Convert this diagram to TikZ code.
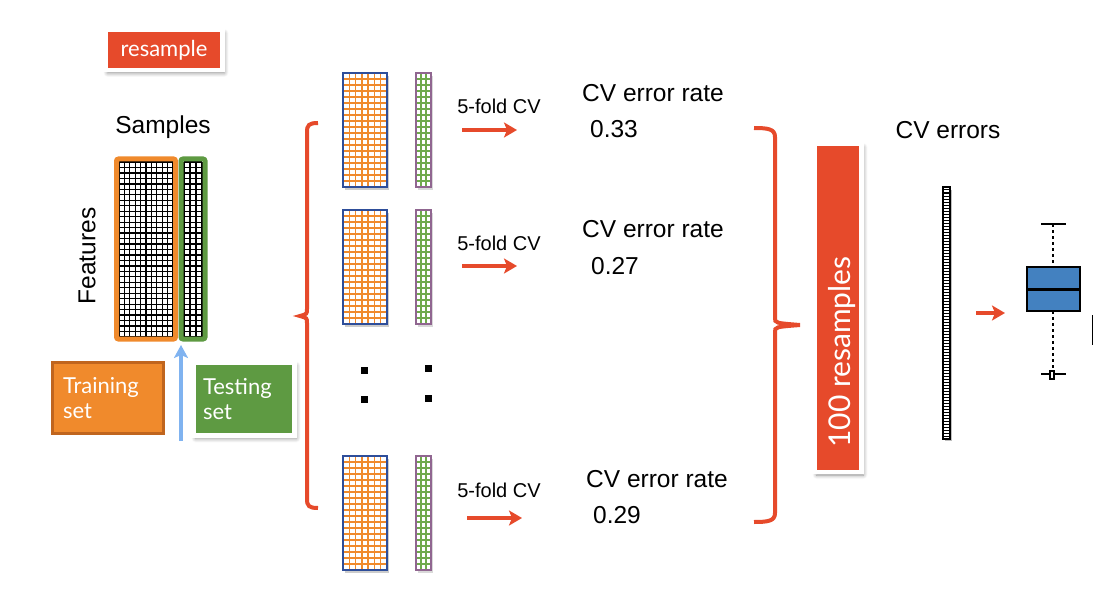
\documentclass[tikz,border=0pt]{standalone}
\usepackage{fontspec}
\setmainfont{Liberation Sans}
\newfontfamily\gill{Lato}
\usetikzlibrary{shadows,shadows.blur,arrows.meta}
\definecolor{cvred}{HTML}{E64A2B}
\definecolor{cvorange}{HTML}{F08A2C}
\definecolor{cvorangedark}{HTML}{C0651E}
\definecolor{cvgreen}{HTML}{5E9A42}
\definecolor{cvgreenl}{HTML}{6FAA4C}
\definecolor{cvblue}{HTML}{2E4E9A}
\definecolor{cvarrow}{HTML}{80B3F0}
\definecolor{cvbox}{HTML}{4381C0}
\newcommand\mygrid[7]{%
 \foreach \i in {0,...,#5}{\draw[#7] ({#1+(#3-#1)*\i/#5},#2) -- ({#1+(#3-#1)*\i/#5},#4);}
 \foreach \j in {0,...,#6}{\draw[#7] (#1,{#2+(#4-#2)*\j/#6}) -- (#3,{#2+(#4-#2)*\j/#6});}
}
\tikzset{
  lbl/.style={font=\fontsize{24.5}{28}\selectfont, inner sep=0pt},
  small/.style={font=\fontsize{20}{24}\selectfont, inner sep=0pt},
  softshadow/.style={blur shadow={shadow blur steps=6, shadow xshift=2pt, shadow yshift=-3pt, shadow blur radius=4pt, shadow opacity=45}},
  redbox/.style={fill=cvred, draw=white, line width=4.5pt, text=white, softshadow},
  redarrow/.style={draw=cvred, line width=3.8pt, -{Stealth[length=13pt,width=15pt,inset=3pt]}},
  brace/.style={draw=cvred, line width=4pt},
  orgrid/.style={draw=cvorange, line width=1.5pt},
  grgrid/.style={draw=cvgreenl, line width=1.3pt},
  blgrid/.style={draw=black, line width=1.3pt},
}
\begin{document}
\begin{tikzpicture}[x=1pt,y=-1pt]
\useasboundingbox (0,0) rectangle (1102,596);
% resample
\node[redbox, minimum width=117pt, minimum height=40pt, font=\gill\fontsize{22}{24}\selectfont] (res) at (164,50) {resample};
% samples matrix
\node[lbl] (samples) at (163,127) {Samples};
\node[lbl, rotate=90] (features) at (87,256) {Features};
\mygrid{119}{162}{173}{337}{10}{32}{blgrid}
\mygrid{184}{162}{202}{337}{3}{32}{blgrid}
\node[draw=cvorange, line width=5pt, rounded corners=2pt, minimum width=59pt, minimum height=180pt, inner sep=0pt] (mtrain) at (146,249) {};
\node[draw=cvgreen, line width=5pt, rounded corners=2pt, minimum width=24pt, minimum height=180pt, inner sep=0pt] (mtest) at (193,249) {};
% training / testing boxes
\node[fill=cvorange, draw=cvorangedark, line width=3pt, minimum width=111pt, minimum height=71pt, text width=90pt, align=left, text=white, font=\gill\fontsize{22}{25}\selectfont] (train) at (108,398) {Training\\set};
\node[fill=cvgreen, draw=white, line width=4.5pt, minimum width=101pt, minimum height=73pt, text width=82pt, align=left, text=white, softshadow, font=\gill\fontsize{22}{25}\selectfont] (test) at (244,399) {Testing\\set};
\coordinate (split) at (181,441);
\draw[draw=cvarrow, line width=3.8pt, -{Stealth[length=13pt,width=14pt,inset=3pt]}] (split) -- (181,345);
% left brace
\draw[brace] (318,123) .. controls (309,123) and (307,125) .. (307,132) -- (307,309) .. controls (307,314) .. (300,316) .. controls (307,318) .. (307,323) -- (307,499) .. controls (307,506) and (309,508) .. (318,508);
% small matrices
\foreach \y/\nm in {73/a,210/b,456/c}{
  \fill[black!20] (345,\y+3) rectangle (389,\y+117);
  \fill[white] (343,\y) rectangle (387,\y+114);
  \mygrid{343}{\y}{387}{\y+114}{7}{19}{orgrid}
  \draw[cvblue, line width=1.6pt] (343,\y) rectangle (387,\y+114);
  \fill[black!15] (418,\y+3) rectangle (433,\y+117);
  \fill[white] (416,\y) rectangle (431,\y+114);
  \mygrid{416}{\y}{431}{\y+114}{3}{19}{grgrid}
  \draw[black!45!violet!60, line width=1.5pt] (416,\y) rectangle (431,\y+114);
}
% dots
\foreach \x/\y in {364/370,428/368,364/399,428/398}{\fill (\x-3.5,\y-3.5) rectangle (\x+3.5,\y+3.5);}
% CV labels
\node[small] (f1) at (499,106) {5-fold CV};
\node[small] (f2) at (499,243) {5-fold CV};
\node[small] (f3) at (499,490) {5-fold CV};
\coordinate (a1s) at (462,130); \coordinate (a1e) at (517,130);
\coordinate (a2s) at (462,266); \coordinate (a2e) at (517,266);
\coordinate (a3s) at (467,518); \coordinate (a3e) at (522,518);
\draw[redarrow] (a1s) -- (a1e);
\draw[redarrow] (a2s) -- (a2e);
\draw[redarrow] (a3s) -- (a3e);
\node[lbl] (e1) at (653,93) {CV error rate};
\node[lbl] (v1) at (614,129) {0.33};
\node[lbl] (e2) at (653,229) {CV error rate};
\node[lbl] (v2) at (615,266) {0.27};
\node[lbl] (e3) at (657,479) {CV error rate};
\node[lbl] (v3) at (617,515) {0.29};
% right brace
\draw[brace] (754,128) .. controls (768,128) and (775,129) .. (775,137) -- (775,318) .. controls (775,323) .. (800,325) .. controls (775,327) .. (775,332) -- (775,513) .. controls (775,521) and (768,522) .. (754,522);
% 100 resamples
\node[redbox, minimum width=47pt, minimum height=328pt, inner sep=0pt] (hundred) at (838,308) {};
\node[rotate=90, text=white, font=\gill\fontsize{30}{32}\selectfont, inner sep=0pt] (htext) at (842,352) {100 resamples};
% CV errors
\node[lbl] (cverr) at (948,130) {CV errors};
\fill[black!25] (945,190) rectangle (952,441);
\fill[white] (943,187) rectangle (950,439);
\foreach \k in {0,...,83}{\draw[black, line width=1pt] (943,{187+\k*3}) -- (950,{187+\k*3});}
\draw[black, line width=1.8pt] (943,187) rectangle (950,439);
\coordinate (bs) at (976,313); \coordinate (be) at (1005,313);
\draw[redarrow] (bs) -- (be);
% boxplot
\draw[dashed, line width=1.2pt] (1053,224) -- (1053,267);
\draw[dashed, line width=1.2pt] (1053,311) -- (1053,371);
\draw[line width=1.3pt] (1041,224) -- (1066,224);
\draw[line width=1.3pt] (1041,374) -- (1066,374);
\node[fill=cvbox, draw=black, line width=1.3pt, minimum width=53pt, minimum height=44pt, inner sep=0pt] (bxp) at (1053.5,289) {};
\draw[line width=3pt] (bxp.west) -- (bxp.east);
\draw[fill=white, line width=1.2pt] (1050,371) rectangle (1054,379);
\draw[line width=1pt] (1092,315) -- (1092,345);
\end{tikzpicture}
\end{document}
